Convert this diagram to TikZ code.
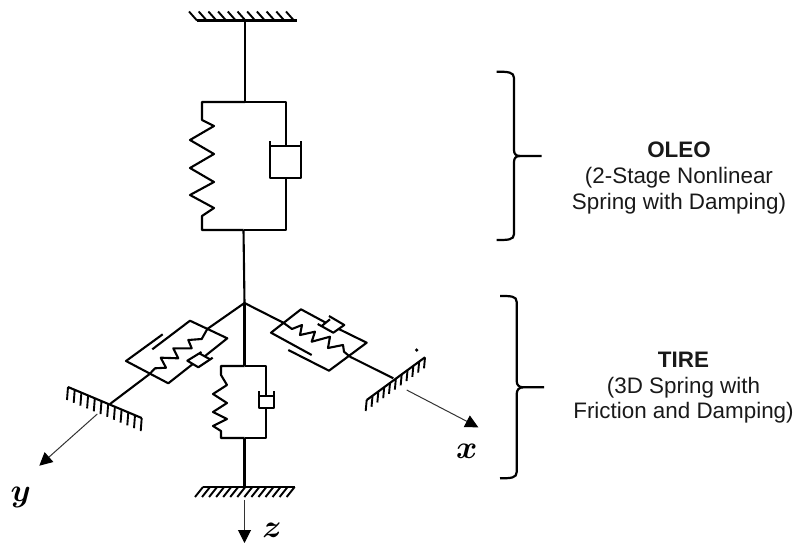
\documentclass[tikz,border=0pt]{standalone}
\usepackage{amsmath,amssymb}
\usepackage{fontspec}
\setmainfont{Liberation Sans}
\usetikzlibrary{arrows.meta}
\tikzstyle{member} = [draw=black, line width=2.1pt, line join=round]
\tikzstyle{hatch} = [draw=black, line width=1.9pt]
\tikzstyle{axisline} = [draw=black!80, line width=1pt, -{Triangle[length=13pt,width=13pt,color=black]}]
\tikzstyle{bracket} = [draw=black, line width=2.2pt]
\tikzstyle{axislabel} = [font=\fontsize{25}{25}\selectfont, inner sep=0pt]
\tikzstyle{caption} = [align=center, inner sep=0pt, text=black!90, font=\fontsize{22.4}{25.6}\selectfont]

\begin{document}
\begin{tikzpicture}[x=1pt,y=-1pt]
    \useasboundingbox (0,0) rectangle (796,544);
    \coordinate (hub) at (244.5,303);

    % oleo
    \coordinate (oleotop) at (245,102);
    \coordinate (oleobot) at (243.5,230);
    \draw[member] (245,20) -- (oleotop);
    \draw[member] (oleobot) -- (hub);
    \draw[member] (oleotop) -- (202,102) -- (202,120) -- (214,126) -- (190,140) -- (214,154) -- (190,168) -- (214,182) -- (190,195) -- (214,208) -- (202,216) -- (202,230) -- (oleobot);
    \draw[member] (oleotop) -- (286,102) -- (286,146);
    \draw[member] (270,141) -- (270,178) -- (301,178) -- (301,141);
    \draw[member] (270,146) -- (301,146);
    \draw[member] (286,178) -- (286,230) -- (oleobot);
    \draw[member] (197,20.5) -- (297,20.5);
    \foreach \i in {0,...,10}
        \draw[hatch] (197+9.7*\i,20.5) -- ++(-8,-9);

    % tire, z direction
    \coordinate (ztop) at (244.5,366);
    \coordinate (zbot) at (244.5,438);
    \draw[member] (hub) -- (ztop);
    \draw[member] (ztop) -- (221,366) -- (221,375) -- (227,385) -- (213,394) -- (227,403) -- (213,412) -- (227,419) -- (213,426) -- (221,431) -- (221,438) -- (zbot);
    \draw[member] (ztop) -- (266,366) -- (266,396);
    \draw[member] (259,391) -- (259,408) -- (274,408) -- (274,391);
    \draw[member] (259,396) -- (274,396);
    \draw[member] (266,408) -- (266,438) -- (zbot);
    \draw[member] (zbot) -- (244.5,487);
    \draw[member] (203,487) -- (295,487);
    \foreach \i in {0,...,13}
        \draw[hatch] (203+7.05*\i,487) -- ++(-8,10);
    \coordinate (zstart) at (244.5,500);
    \coordinate (zend) at (244.5,543);
    \draw[axisline] (zstart) -- (zend);
    \node[axislabel] (zlabel) at (272,530) {\scalebox{1.3}{$\boldsymbol{z}$}};

    % tire, y direction
    \coordinate (ynear) at (207.3,329);
    \coordinate (yfar) at (149.3,374.3);
    \coordinate (ywall) at (110,404);
    \draw[member] (hub) -- (ynear);
    \draw[member] (yfar) -- (ywall);
    \draw[member] (152.3,349.3) -- (190,320.7) -- (227.3,338.3) -- (204.7,356.3);
    \draw[member] (162.7,334.3) -- (126,361) -- (168.3,383.3) -- (192.8,364);
    \draw[member] (ynear) -- (201.7,339) -- (188.3,340) -- (191.7,348.3) -- (173.3,348.3) -- (178.3,358.3) -- (160.7,357.7) -- (166,367.7) -- (155,368.3) -- (yfar);
    \draw[member] (201.5,352) -- (187.3,360.7) -- (198.3,367.3) -- (212.7,357.7);
    \draw[member] (199.3,353.3) -- (210,359.3);
    \draw[member] (68,387) -- (141.7,418);
    \foreach \i in {0,...,11}
        \draw[hatch] (68+6.7*\i,387+2.82*\i) -- ++(-1,13);
    \coordinate (ystart) at (97.3,414);
    \coordinate (yend) at (39.3,465.7);
    \draw[axisline] (ystart) -- (yend);
    \node[axislabel] (ylabel) at (20.7,497) {\scalebox{1.3}{$\boldsymbol{y}$}};

    % tire, x direction
    \coordinate (xnear) at (283.3,322.7);
    \coordinate (xfar) at (350,356.7);
    \coordinate (xwall) at (393.3,378.3);
    \draw[member] (hub) -- (xnear);
    \draw[member] (xfar) -- (xwall);
    \draw[member] (325.8,322.7) -- (301,309.3) -- (271,332.7) -- (311.7,355);
    \draw[member] (288.3,350) -- (329,370.7) -- (366.7,342.7) -- (338.8,329);
    \draw[member] (xnear) -- (292,329) -- (302,325) -- (300,335) -- (315,331.7) -- (311.7,341.7) -- (330,336.7) -- (328,348) -- (343,345) -- (344,351.7) -- (xfar);
    \draw[member] (329,316) -- (344.3,325) -- (333.3,332.7) -- (317.7,324);
    \draw[member] (321.7,326) -- (330,319.3);
    \draw[member] (366.7,400) -- (425,357.3);
    \foreach \i in {0,...,10}
        \draw[hatch] (366.7+5.83*\i,400-4.27*\i) -- ++(-1,11);
    \fill (416.7,350) circle (1.8pt);
    \coordinate (xstart) at (406.7,390);
    \coordinate (xend) at (478.3,427.3);
    \draw[axisline] (xstart) -- (xend);
    \node[axislabel] (xlabel) at (466.7,451.7) {\scalebox{1.3}{$\boldsymbol{x}$}};

    % brackets
    \draw[bracket] (496.7,71.7) .. controls (508,71.7) and (514,72) .. (514,78) -- (514,150) .. controls (514,154) and (516,156) .. (520,156) -- (541.7,156);
    \draw[bracket] (520,156) .. controls (516,156) and (514,158) .. (514,162) -- (514,234) .. controls (514,240) and (508,240) .. (496.7,240);
    \draw[bracket] (500,296) .. controls (511,296) and (516.7,296) .. (516.7,302) -- (516.7,381) .. controls (516.7,385) and (519,387.3) .. (523,387.3) -- (544,387.3);
    \draw[bracket] (523,387.3) .. controls (519,387.3) and (516.7,390) .. (516.7,394) -- (516.7,472) .. controls (516.7,478) and (511,478.3) .. (500,478.3);
    \node[caption] (oleotext) at (679,178) {\textbf{OLEO}\\(2-Stage Nonlinear\\Spring with Damping)};
    \node[caption] (tiretext) at (683.5,388) {\textbf{TIRE}\\(3D Spring with\\Friction and Damping)};
\end{tikzpicture}
\end{document}
